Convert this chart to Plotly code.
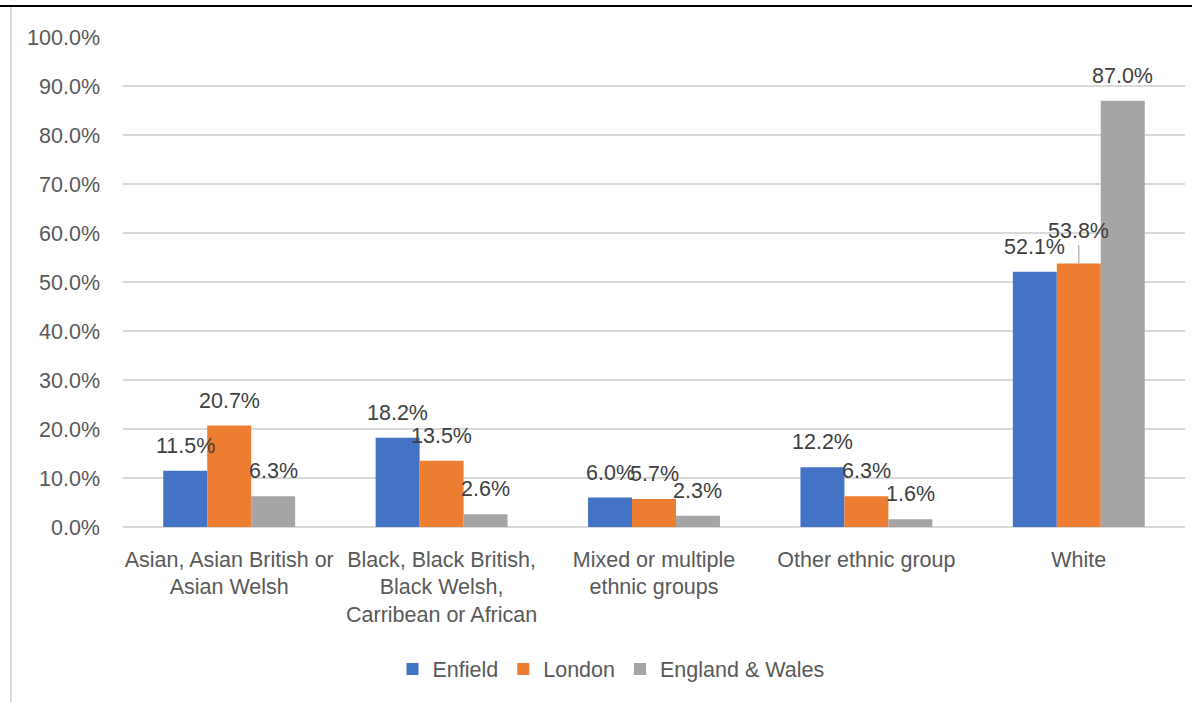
import plotly.graph_objects as go

categories = [
    "Asian, Asian British or<br>Asian Welsh",
    "Black, Black British,<br>Black Welsh,<br>Carribean or African",
    "Mixed or multiple<br>ethnic groups",
    "Other ethnic group",
    "White",
]
enfield = [11.5, 18.2, 6.0, 12.2, 52.1]
london = [20.7, 13.5, 5.7, 6.3, 53.8]
england_wales = [6.3, 2.6, 2.3, 1.6, 87.0]
series_names = ["Enfield", "London", "England & Wales"]
series_values = [enfield, london, england_wales]
colors = ["#4472C4", "#ED7D31", "#A5A5A5"]
y_ticks = [0, 10, 20, 30, 40, 50, 60, 70, 80, 90, 100]

W, H = 1192, 702
ML, MR, MT, MB = 123, 7, 37, 175
BARGAP = 0.379
FONT = "Liberation Sans"
FS = 21.5

plot_w = W - ML - MR
plot_h = H - MT - MB
band_px = plot_w / len(categories)
bar_px = band_px * (1 - BARGAP) / len(series_names)

fig = go.Figure()
for name, vals, col in zip(series_names, series_values, colors):
    fig.add_trace(go.Bar(name=name, x=categories, y=vals, marker=dict(color=col, line=dict(width=0)),
                         hoverinfo="skip"))

annotations = []
for i, (name, vals) in enumerate(zip(series_names, series_values)):
    for cat, v in zip(categories, vals):
        leader = (name == "London" and cat == "White")
        if leader:
            annotations.append(dict(
                x=cat, y=v, xref="x", yref="y", text=f"{v:.1f}%",
                showarrow=True, ax=0, ay=-32, arrowhead=0, arrowwidth=1.2,
                arrowcolor="#A6A6A6", standoff=0, startstandoff=0,
                xshift=(i - 1) * bar_px,
                font=dict(family=FONT, size=FS, color="#404040")))
        else:
            annotations.append(dict(
                x=cat, y=v, xref="x", yref="y", text=f"{v:.1f}%",
                showarrow=False, xanchor="center", yanchor="middle",
                xshift=(i - 1) * bar_px, yshift=25,
                font=dict(family=FONT, size=FS, color="#404040")))

shapes = [
    # top frame line
    dict(type="line", xref="paper", yref="paper",
         x0=(0 - ML) / plot_w, x1=(W - ML) / plot_w,
         y0=(H - MB - 6) / plot_h, y1=(H - MB - 6) / plot_h,
         line=dict(color="#000000", width=2)),
    # left frame line
    dict(type="line", xref="paper", yref="paper",
         x0=(11 - ML) / plot_w, x1=(11 - ML) / plot_w,
         y0=(H - MB - 7) / plot_h, y1=(H - MB - H) / plot_h,
         line=dict(color="#D9D9D9", width=2)),
]

fig.update_layout(
    width=W, height=H,
    margin=dict(l=ML, r=MR, t=MT, b=MB, pad=0),
    paper_bgcolor="white", plot_bgcolor="white",
    barmode="group", bargap=BARGAP, bargroupgap=0,
    font=dict(family=FONT, size=FS, color="#595959"),
    annotations=annotations,
    shapes=shapes,
    legend=dict(orientation="h", x=(611 - ML) / plot_w, xanchor="center",
                y=(H - MB - 669) / plot_h, yanchor="middle",
                font=dict(family=FONT, size=FS, color="#595959"),
                itemwidth=30, traceorder="normal"),
    xaxis=dict(showgrid=False, showline=False, ticks="", tickfont=dict(size=FS, color="#595959"),
               ticklabelstandoff=17, fixedrange=True),
    yaxis=dict(range=[0, 100], tickvals=y_ticks, ticktext=[f"{t:.1f}%" for t in y_ticks],
               showgrid=True, gridcolor="#D9D9D9", gridwidth=1.5,
               zeroline=True, zerolinecolor="#D9D9D9", zerolinewidth=1.5,
               showline=False, ticks="", tickfont=dict(size=FS, color="#595959"),
               ticklabelstandoff=22, fixedrange=True),
)

fig.write_html("out.html")
